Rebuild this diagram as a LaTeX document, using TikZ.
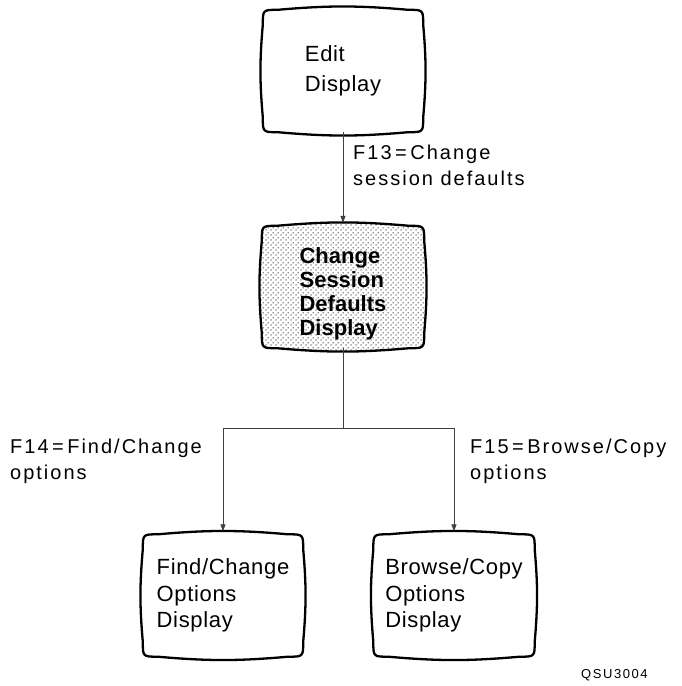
\documentclass[tikz,border=0pt]{standalone}
\usepackage{fontspec}
\setmainfont{Liberation Sans}
\newfontfamily\boxfont[LetterSpace=3]{Liberation Sans}
\newfontfamily\labfont[LetterSpace=10]{Liberation Sans}
\newfontfamily\tagfont[LetterSpace=12]{Liberation Sans}
\usetikzlibrary{arrows.meta,backgrounds,patterns.meta}

\tikzdeclarepattern{
  name=crtdots, type=uncolored,
  bounding box={(0pt,0pt) and (5pt,5pt)},
  tile size={(5pt,5pt)},
  code={\pgfpathcircle{\pgfpoint{1.25pt}{1.25pt}}{0.8pt}\pgfpathcircle{\pgfpoint{3.75pt}{3.75pt}}{0.8pt}\pgfusepath{fill}}}

% #1 vertical shift of outline, #2 node name, #3 path style
\newcommand\crtoutline[3][0pt]{%
  \path[#3]
    ([xshift=15pt,yshift=#1]#2.north west) to[bend left=5]
    ([xshift=-15pt,yshift=#1]#2.north east)
    .. controls ([yshift=#1]#2.north east) .. ([yshift=#1-15pt]#2.north east)
    to[bend left=5] ([yshift=#1+15pt]#2.south east)
    .. controls ([yshift=#1]#2.south east) .. ([xshift=-15pt,yshift=#1]#2.south east)
    to[bend left=5] ([xshift=15pt,yshift=#1]#2.south west)
    .. controls ([yshift=#1]#2.south west) .. ([yshift=#1+15pt]#2.south west)
    to[bend left=5] ([yshift=#1-15pt]#2.north west)
    .. controls ([yshift=#1]#2.north west) .. ([xshift=15pt,yshift=#1]#2.north west)
    -- cycle;}

\begin{document}
\begin{tikzpicture}[x=1pt,y=-1pt,
  crt/.style={draw=black,line width=2.3pt,line join=round},
  crtshaded/.style={crt,pattern=crtdots,pattern color=black!85},
  screen/.style={inner sep=0pt,align=left,minimum width=160pt,minimum height=122pt,
    font=\boxfont\fontsize{22}{26.5}\selectfont},
  boldscreen/.style={screen,font=\bfseries\fontsize{22}{24}\selectfont},
  lab/.style={anchor=west,align=left,inner sep=0pt,font=\labfont\fontsize{20}{26}\selectfont},
  conn/.style={draw=black!75,line width=0.8pt},
  arr/.style={conn,-{Triangle[length=7pt,width=5pt]}}]

\useasboundingbox (0,0) rectangle (682,686);

\node[screen] (edit) at (343,71) {Edit\\[3pt]Display};
\node[boldscreen,minimum width=162pt] (csd) at (343,294) {Change\\Session\\Defaults\\Display};
\node[screen] (fc) at (223,595.5) {Find/Change\\Options\\Display};
\node[screen,minimum width=161pt] (bc) at (454,595.5) {Browse/Copy\\Options\\Display};

\begin{scope}[on background layer]
  \crtoutline{edit}{crt}
  \crtoutline[7pt]{csd}{crtshaded}
  \crtoutline{fc}{crt}
  \crtoutline{bc}{crt}
\end{scope}

\coordinate (split) at (343,428);
\draw[arr] (edit.south) -- ([yshift=10pt]csd.north);
\draw[conn] ([yshift=7pt]csd.south) -- (split);
\draw[arr] (split) -| ([yshift=3pt]fc.north);
\draw[arr] (split) -| ([yshift=3pt]bc.north);

\node[lab] (f13) at (353,165) {F13\kern3.5pt=\kern3.5pt Change\\session defaults};
\node[lab] (f14) at (10,461) {F14\kern3.5pt=\kern3.5pt Find/Change\\options};
\node[lab] (f15) at (470,461) {F15\kern3.5pt=\kern3.5pt Browse/Copy\\options};
\node[anchor=west,inner sep=0pt,font=\tagfont\fontsize{13}{15}\selectfont] (tag) at (581,675) {QSU3004};
\end{tikzpicture}
\end{document}
